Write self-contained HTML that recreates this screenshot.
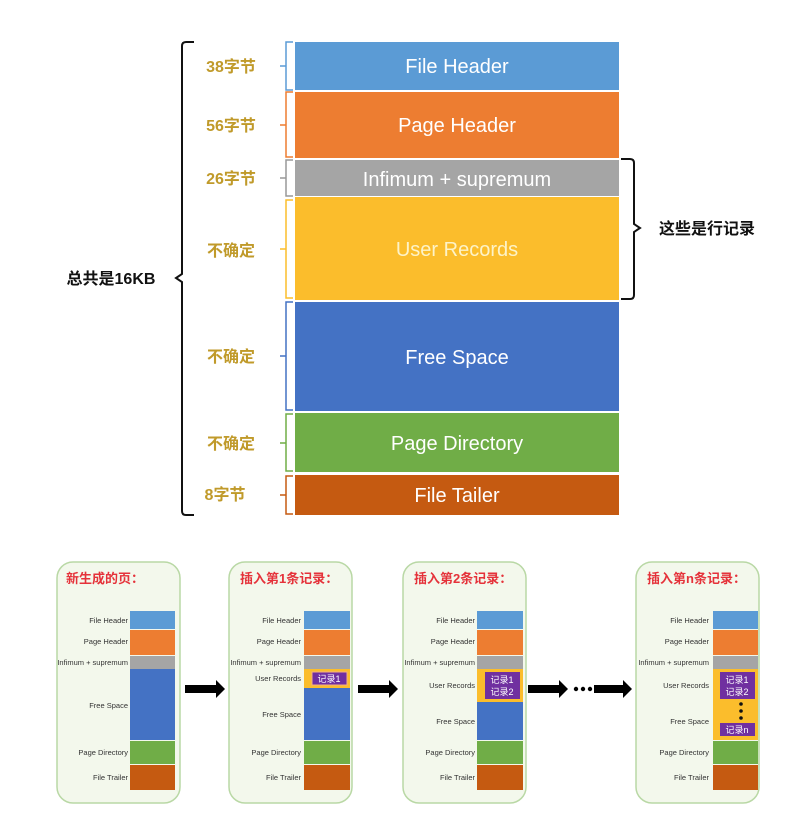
<!DOCTYPE html>
<html><head><meta charset="utf-8"><style>
html,body{margin:0;padding:0;background:#fff;width:804px;height:817px;overflow:hidden}
svg{display:block}
text{font-family:"Liberation Sans","Noto Sans CJK SC",sans-serif}
</style></head><body>
<svg width="804" height="817" viewBox="0 0 804 817">
<!-- top bars -->
<g>
<rect x="295" y="42" width="324" height="48" fill="#5b9bd5"/>
<rect x="295" y="92" width="324" height="66" fill="#ed7d31"/>
<rect x="295" y="160" width="324" height="36" fill="#a5a5a5"/>
<rect x="295" y="197" width="324" height="103" fill="#fbbd2c"/>
<rect x="295" y="302" width="324" height="109" fill="#4472c4"/>
<rect x="295" y="413" width="324" height="59" fill="#70ad47"/>
<rect x="295" y="475" width="324" height="40" fill="#c55a11"/>
</g>
<g fill="#fff" font-size="20" text-anchor="middle">
<text x="457" y="73">File Header</text>
<text x="457" y="132">Page Header</text>
<text x="457" y="186">Infimum + supremum</text>
<text x="457" y="256" fill="#fdf3c8">User Records</text>
<text x="457" y="364">Free Space</text>
<text x="457" y="450">Page Directory</text>
<text x="457" y="502">File Tailer</text>
</g>
<!-- small braces -->
<g fill="none" stroke-width="1.5">
<path d="M293 42 H286 V90 H293 M286 66 H280" stroke="#5b9bd5"/>
<path d="M293 92 H286 V157 H293 M286 125 H280" stroke="#ed7d31"/>
<path d="M293 160 H286 V196 H293 M286 178 H280" stroke="#999"/>
<path d="M293 200 H286 V298 H293 M286 249 H280" stroke="#fbbd2c"/>
<path d="M293 302 H286 V410 H293 M286 356 H280" stroke="#4472c4"/>
<path d="M293 414 H286 V471 H293 M286 443 H280" stroke="#70ad47"/>
<path d="M293 476 H286 V514 H293 M286 495 H280" stroke="#c55a11"/>
</g>
<g fill="#c09a2a" font-size="16" font-weight="bold" text-anchor="middle">
<text x="231" y="72">38字节</text>
<text x="231" y="131">56字节</text>
<text x="231" y="184">26字节</text>
<text x="231" y="256">不确定</text>
<text x="231" y="362">不确定</text>
<text x="231" y="449">不确定</text>
<text x="225" y="500">8字节</text>
</g>
<!-- big brace -->
<path d="M194 42 H186 Q182 42 182 46 V274 L176 278 L182 282 V511 Q182 515 186 515 H194" fill="none" stroke="#111" stroke-width="2"/>
<text x="111" y="284" font-size="16" font-weight="bold" text-anchor="middle" fill="#111">总共是16KB</text>
<!-- right brace -->
<path d="M621 159 H630 Q634 159 634 163 V224 L640 228 L634 232 V295 Q634 299 630 299 H621" fill="none" stroke="#111" stroke-width="2"/>
<text x="707" y="234" font-size="16" font-weight="bold" text-anchor="middle" fill="#111">这些是行记录</text>

<!-- bottom panels -->
<g fill="#f3f8ec" stroke="#b9d8a5" stroke-width="1.5">
<rect x="57" y="562" width="123" height="241" rx="16"/>
<rect x="229" y="562" width="123" height="241" rx="16"/>
<rect x="403" y="562" width="123" height="241" rx="16"/>
<rect x="636" y="562" width="123" height="241" rx="16"/>
</g>
<g fill="#e5323a" font-size="13" font-weight="bold">
<text x="66" y="583">新生成的页：</text>
<text x="240" y="583">插入第1条记录：</text>
<text x="414" y="583">插入第2条记录：</text>
<text x="647" y="583">插入第n条记录：</text>
</g>
<!-- panel bars -->
<g>
<rect x="130" y="611" width="45" height="18" fill="#5b9bd5"/>
<rect x="130" y="630" width="45" height="25" fill="#ed7d31"/>
<rect x="130" y="656" width="45" height="13" fill="#a5a5a5"/>
<rect x="130" y="669" width="45" height="71" fill="#4472c4"/>
<rect x="130" y="741" width="45" height="23" fill="#70ad47"/>
<rect x="130" y="765" width="45" height="25" fill="#c55a11"/>

<rect x="304" y="611" width="46" height="18" fill="#5b9bd5"/>
<rect x="304" y="630" width="46" height="25" fill="#ed7d31"/>
<rect x="304" y="656" width="46" height="13" fill="#a5a5a5"/>
<rect x="304" y="669" width="46" height="19" fill="#fbbd2c"/>
<rect x="304" y="688" width="46" height="52" fill="#4472c4"/>
<rect x="304" y="741" width="46" height="23" fill="#70ad47"/>
<rect x="304" y="765" width="46" height="25" fill="#c55a11"/>
<rect x="312" y="672" width="35" height="13" fill="#7030a0" stroke="#f4b183" stroke-width="1"/>

<rect x="477" y="611" width="46" height="18" fill="#5b9bd5"/>
<rect x="477" y="630" width="46" height="25" fill="#ed7d31"/>
<rect x="477" y="656" width="46" height="13" fill="#a5a5a5"/>
<rect x="477" y="669" width="46" height="33" fill="#fbbd2c"/>
<rect x="477" y="702" width="46" height="38" fill="#4472c4"/>
<rect x="477" y="741" width="46" height="23" fill="#70ad47"/>
<rect x="477" y="765" width="46" height="25" fill="#c55a11"/>
<rect x="485" y="672" width="35" height="27" fill="#7030a0"/>

<rect x="713" y="611" width="45" height="18" fill="#5b9bd5"/>
<rect x="713" y="630" width="45" height="25" fill="#ed7d31"/>
<rect x="713" y="656" width="45" height="13" fill="#a5a5a5"/>
<rect x="713" y="669" width="45" height="71" fill="#fbbd2c"/>
<rect x="713" y="741" width="45" height="23" fill="#70ad47"/>
<rect x="713" y="765" width="45" height="25" fill="#c55a11"/>
<rect x="720" y="672" width="35" height="27" fill="#7030a0"/>
<rect x="720" y="723" width="35" height="13" fill="#7030a0"/>
<circle cx="741" cy="704" r="1.8" fill="#111"/><circle cx="741" cy="711" r="1.8" fill="#111"/><circle cx="741" cy="718" r="1.8" fill="#111"/>
</g>
<g fill="#fff" font-size="9" text-anchor="middle">
<text x="329" y="682">记录1</text>
<text x="502" y="683">记录1</text><text x="502" y="695">记录2</text>
<text x="737" y="683">记录1</text><text x="737" y="695">记录2</text>
<text x="737" y="733">记录n</text>
</g>
<g fill="#333" font-size="7.5" text-anchor="end">
<text x="128" y="623">File Header</text><text x="128" y="644">Page Header</text><text x="128" y="665">Infimum + supremum</text>
<text x="128" y="708">Free Space</text><text x="128" y="755">Page Directory</text><text x="128" y="780">File Trailer</text>
<text x="301" y="623">File Header</text><text x="301" y="644">Page Header</text><text x="301" y="665">Infimum + supremum</text>
<text x="301" y="681">User Records</text>
<text x="301" y="717">Free Space</text><text x="301" y="755">Page Directory</text><text x="301" y="780">File Trailer</text>
<text x="475" y="623">File Header</text><text x="475" y="644">Page Header</text><text x="475" y="665">Infimum + supremum</text>
<text x="475" y="688">User Records</text>
<text x="475" y="724">Free Space</text><text x="475" y="755">Page Directory</text><text x="475" y="780">File Trailer</text>
<text x="709" y="623">File Header</text><text x="709" y="644">Page Header</text><text x="709" y="665">Infimum + supremum</text>
<text x="709" y="688">User Records</text>
<text x="709" y="724">Free Space</text><text x="709" y="755">Page Directory</text><text x="709" y="780">File Trailer</text>
</g>
<!-- arrows -->
<g fill="#000">
<polygon points="185,685 216,685 216,680 225,689 216,698 216,693 185,693"/>
<polygon points="358,685 389,685 389,680 398,689 389,698 389,693 358,693"/>
<polygon points="528,685 559,685 559,680 568,689 559,698 559,693 528,693"/>
<polygon points="594,685 623,685 623,680 632,689 623,698 623,693 594,693"/>
<circle cx="576" cy="689" r="2.2"/><circle cx="583" cy="689" r="2.2"/><circle cx="590" cy="689" r="2.2"/>
</g>
</svg>
</body></html>
